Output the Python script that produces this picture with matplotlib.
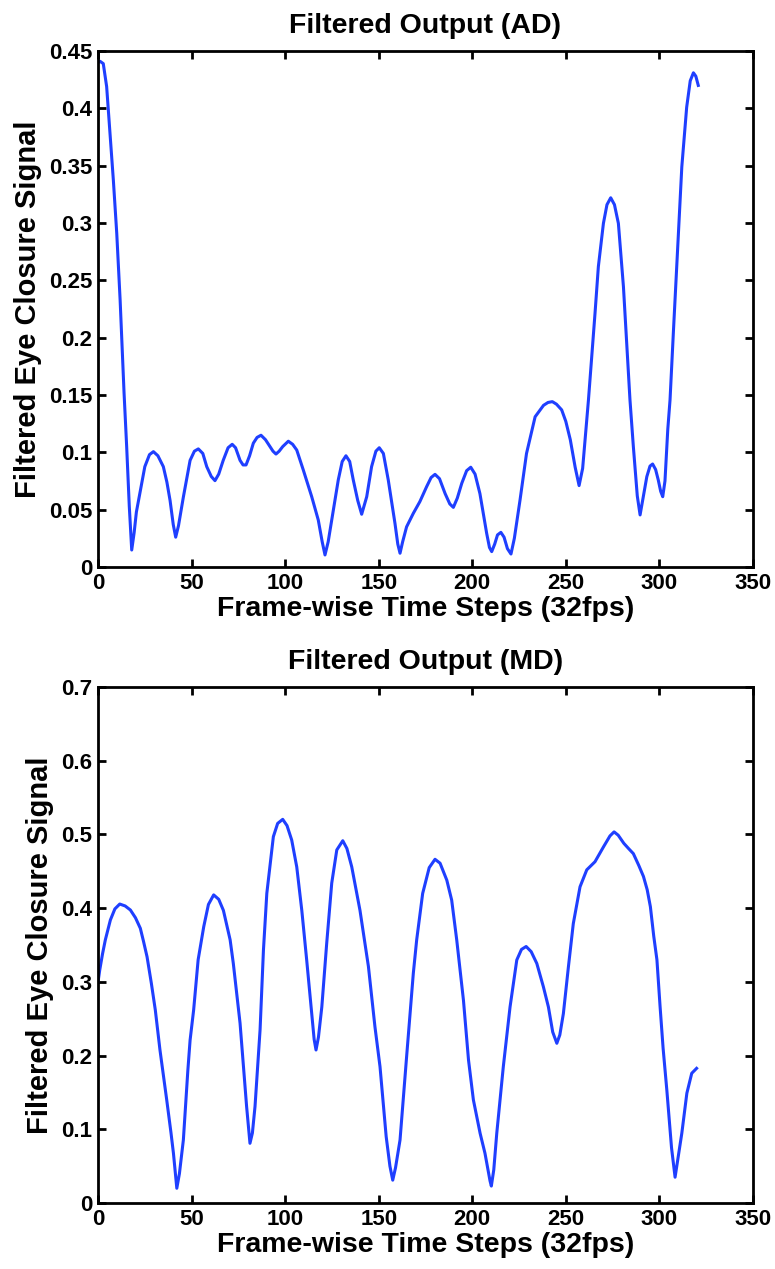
import numpy as np
import matplotlib
matplotlib.use('Agg')
import matplotlib.pyplot as plt

plt.rcParams['font.family'] = ['Liberation Sans', 'DejaVu Sans']
plt.rcParams['font.weight'] = 'bold'

# AD series
ad_x = [0, 1.1, 2.8, 4.6, 6.4, 8.2, 10, 11.8, 12.7, 13.9, 15.3, 16.7, 18, 19.3, 20.5, 22.4, 25, 27.5,
        29.6, 32, 34.9, 36.8, 38.5, 40.2, 41.5, 43, 45.6, 49.2, 51.5, 53.6, 56, 58.1, 60.5, 62.5, 64.5,
        66.9, 69.5, 71.7, 73.5, 75.9, 77.5, 79.1, 81, 83, 85, 87.1, 89.5, 91.9, 93.5, 95.1, 96.8, 98.7,
        101.7, 104, 106.2, 109.7, 114.2, 117.7, 119.8, 121.3, 123, 124.9, 128.4, 130.5, 132.5, 134.5,
        136.4, 138.8, 140.9, 143.6, 146.2, 148.5, 150.3, 152.5, 155.1, 158.7, 160.2, 161.4, 162.8,
        164.9, 168.5, 172, 175.6, 178, 180.1, 182.5, 185.5, 188, 189.9, 192, 194.4, 197, 199.2, 201.5,
        204.1, 207.7, 209.2, 210.4, 212, 213.5, 215.3, 217, 218.8, 220.7, 222.5, 225.5, 229, 233.6,
        238.1, 240.5, 242.8, 245, 247.8, 250, 252.4, 255, 257.1, 259, 262.1, 265.6, 267.4, 270.1, 272,
        274, 276, 278.1, 280.8, 284.3, 286.1, 288.2, 289.7, 291.3, 293.3, 295, 296.4, 298, 299.4, 300.7,
        301.8, 303, 304.5, 305.7, 307.5, 309.3, 312, 314.6, 316.5, 318.2, 319.5, 320.8]
ad_y = [0.440, 0.441, 0.439, 0.419, 0.378, 0.337, 0.291, 0.233, 0.198, 0.152, 0.105, 0.053, 0.0148,
        0.030, 0.048, 0.0645, 0.0875, 0.098, 0.1006, 0.097, 0.0875, 0.074, 0.058, 0.037, 0.026, 0.036,
        0.061, 0.093, 0.101, 0.103, 0.099, 0.0875, 0.079, 0.0753, 0.081, 0.093, 0.104, 0.107, 0.104,
        0.093, 0.089, 0.089, 0.097, 0.108, 0.113, 0.1149, 0.111, 0.105, 0.101, 0.0985, 0.101, 0.105,
        0.1097, 0.107, 0.102, 0.0846, 0.0613, 0.041, 0.022, 0.0105, 0.022, 0.041, 0.076, 0.092, 0.097,
        0.092, 0.076, 0.058, 0.046, 0.0613, 0.0875, 0.101, 0.104, 0.099, 0.076, 0.038, 0.020, 0.012,
        0.022, 0.035, 0.0468, 0.057, 0.070, 0.078, 0.0808, 0.077, 0.064, 0.055, 0.052, 0.060, 0.073,
        0.084, 0.087, 0.081, 0.064, 0.0294, 0.017, 0.0134, 0.020, 0.028, 0.0302, 0.026, 0.016, 0.0113,
        0.025, 0.058, 0.099, 0.131, 0.141, 0.1435, 0.1442, 0.142, 0.137, 0.127, 0.111, 0.087, 0.071,
        0.086, 0.1456, 0.221, 0.262, 0.2997, 0.316, 0.322, 0.316, 0.2997, 0.2445, 0.1456, 0.105, 0.062,
        0.0454, 0.060, 0.0788, 0.088, 0.0898, 0.085, 0.076, 0.066, 0.0613, 0.075, 0.120, 0.1456, 0.205,
        0.262, 0.349, 0.401, 0.424, 0.431, 0.428, 0.420]

# MD series
md_x = [0, 0.9, 2.4, 3.9, 6.6, 9, 11.6, 14.5, 17.3, 20, 22.6, 24.3, 26.2, 28.5, 30.6, 33.1, 36.7, 39,
        40.3, 42.1, 43.5, 45.6, 48, 49.2, 51.1, 53.5, 56.5, 59, 61.8, 64.5, 67, 69, 70.6, 72.3, 75.9,
        79.4, 81.2, 82.5, 83.9, 86.6, 88.4, 90.2, 93.7, 96, 98.7, 101, 103.5, 106.2, 108.9, 111.5,
        114.2, 115.5, 116.5, 117.8, 119.6, 122.2, 124.9, 127.6, 130.8, 133, 135.6, 140, 144.5, 148,
        150.7, 154, 156, 157.5, 159, 161.4, 164.9, 168.5, 170.3, 173.5, 177, 180.1, 182.8, 186.4, 189,
        191.7, 195.3, 198, 200.6, 204.2, 206.8, 209.5, 210.2, 211.5, 213.1, 216.6, 220.2, 223.8,
        226.3, 228.8, 231.5, 234.5, 238, 240.7, 243, 245.2, 246.8, 248.7, 251.4, 254, 257.6, 261.2,
        265.6, 270.1, 273.6, 275.8, 278, 281, 283.5, 286.1, 289, 291.5, 293.5, 295.2, 297, 298.7,
        300.4, 302, 304, 306.5, 308.4, 310.5, 312, 314.7, 317.3, 319.9]
md_y = [0.300, 0.316, 0.338, 0.357, 0.384, 0.399, 0.4056, 0.403, 0.3975, 0.387, 0.3727, 0.355, 0.334,
        0.298, 0.262, 0.2076, 0.140, 0.095, 0.0675, 0.020, 0.040, 0.0855, 0.180, 0.221, 0.262, 0.330,
        0.375, 0.405, 0.418, 0.412, 0.397, 0.375, 0.357, 0.325, 0.244, 0.131, 0.081, 0.095, 0.131,
        0.235, 0.343, 0.420, 0.497, 0.515, 0.5205, 0.512, 0.4925, 0.456, 0.397, 0.330, 0.257, 0.222,
        0.2076, 0.225, 0.266, 0.352, 0.434, 0.479, 0.4915, 0.481, 0.456, 0.397, 0.321, 0.239, 0.185,
        0.090, 0.050, 0.031, 0.048, 0.0855, 0.198, 0.3116, 0.357, 0.420, 0.455, 0.4663, 0.461, 0.438,
        0.411, 0.357, 0.275, 0.194, 0.140, 0.0946, 0.0675, 0.030, 0.023, 0.045, 0.0946, 0.185, 0.266,
        0.3297, 0.344, 0.348, 0.341, 0.325, 0.2935, 0.266, 0.232, 0.2167, 0.228, 0.257, 0.3206, 0.379,
        0.429, 0.452, 0.463, 0.483, 0.498, 0.5035, 0.499, 0.488, 0.481, 0.474, 0.458, 0.443, 0.425,
        0.402, 0.362, 0.330, 0.266, 0.210, 0.153, 0.075, 0.035, 0.070, 0.0946, 0.149, 0.176, 0.1827]

x_ticks = [0, 50, 100, 150, 200, 250, 300, 350]
ad_yticks = [0, 0.05, 0.1, 0.15, 0.2, 0.25, 0.3, 0.35, 0.4, 0.45]
md_yticks = [0, 0.1, 0.2, 0.3, 0.4, 0.5, 0.6, 0.7]

line_color = '#1f3fff'


def style(ax, yticks, ylim, title):
    ax.set_xlim(0, 350)
    ax.set_ylim(*ylim)
    ax.set_xticks(x_ticks)
    ax.set_xticklabels([str(v) for v in x_ticks])
    ax.set_yticks(yticks)
    ax.set_yticklabels([('%g' % v) for v in yticks])
    ax.tick_params(direction='in', length=6, width=2, top=True, right=True,
                   labelsize=16, pad=4)
    for lab in ax.get_xticklabels() + ax.get_yticklabels():
        lab.set_fontweight('bold')
    for sp in ax.spines.values():
        sp.set_linewidth(2)
    ax.set_xlabel('Frame-wise Time Steps (32fps)', fontsize=20.5, fontweight='bold', labelpad=2)
    ax.set_ylabel('Filtered Eye Closure Signal', fontsize=21, fontweight='bold', labelpad=5)
    ax.set_title(title, fontsize=20.5, fontweight='bold', pad=13)


fig = plt.figure(figsize=(7.75, 12.69), dpi=100)
ax1 = fig.add_axes([0.1265, 0.5532, 0.845, 0.4066])
ax2 = fig.add_axes([0.1265, 0.052, 0.845, 0.4066])

ax1.plot(ad_x, ad_y, color=line_color, lw=2.2, solid_joinstyle='round')
style(ax1, ad_yticks, (0, 0.45), 'Filtered Output (AD)')

ax2.plot(md_x, md_y, color=line_color, lw=2.2, solid_joinstyle='round')
style(ax2, md_yticks, (0, 0.7), 'Filtered Output (MD)')

fig.savefig('out.png', dpi=100)
